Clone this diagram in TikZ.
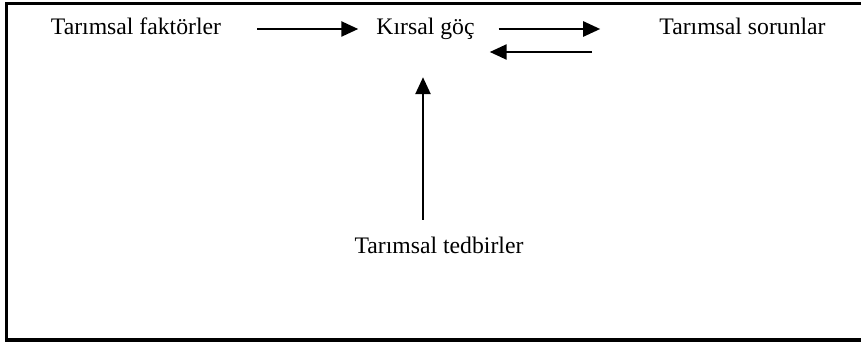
\documentclass[tikz,border=0pt]{standalone}
\usepackage{fontspec}
\setmainfont{Liberation Serif}
\usetikzlibrary{arrows.meta}

\begin{document}
\begin{tikzpicture}[x=1pt, y=-1pt]
	\tikzstyle{label_text} = [inner sep=0pt, anchor=base, text height=17pt, text depth=5pt, font=\fontsize{23.7}{28}\selectfont]
	\tikzstyle{flow_arrow} = [line width=2.5pt, -{Triangle[length=17pt, width=15pt]}]

	\useasboundingbox (0,0) rectangle (861,342);
	\clip (0,0) rectangle (861,342);
	\draw[line width=3.5pt] (6.5,3.5) rectangle (870,340);

%------------------------------------------------------------
	\node[label_text] (faktor) at (136,35) {Tarımsal faktörler};
	\node[label_text] (goc) at (425.5,35) {Kırsal göç};
	\node[label_text] (sorun) at (742.5,35) {Tarımsal sorunlar};

%------------------------------------------------------------

	\node[label_text] (tedbir) at (439,253) {Tarımsal tedbirler};

%------------------------------------------------------------

	\draw[flow_arrow, shorten <=36pt, shorten >=18pt] (faktor.east) -- (goc.west |- faktor.east);
	\draw[flow_arrow, shorten <=24pt, shorten >=59pt] (goc.east) -- (sorun.west);
	\draw[flow_arrow, shorten <=67pt, shorten >=15pt] ([yshift=-23pt]sorun.west) -- ([yshift=-23pt]goc.east);
	\draw[flow_arrow, shorten <=16pt, shorten >=37pt] ([xshift=-16pt]tedbir.north) -- ([xshift=-16pt]tedbir.north |- goc.south);

\end{tikzpicture}
\end{document}
